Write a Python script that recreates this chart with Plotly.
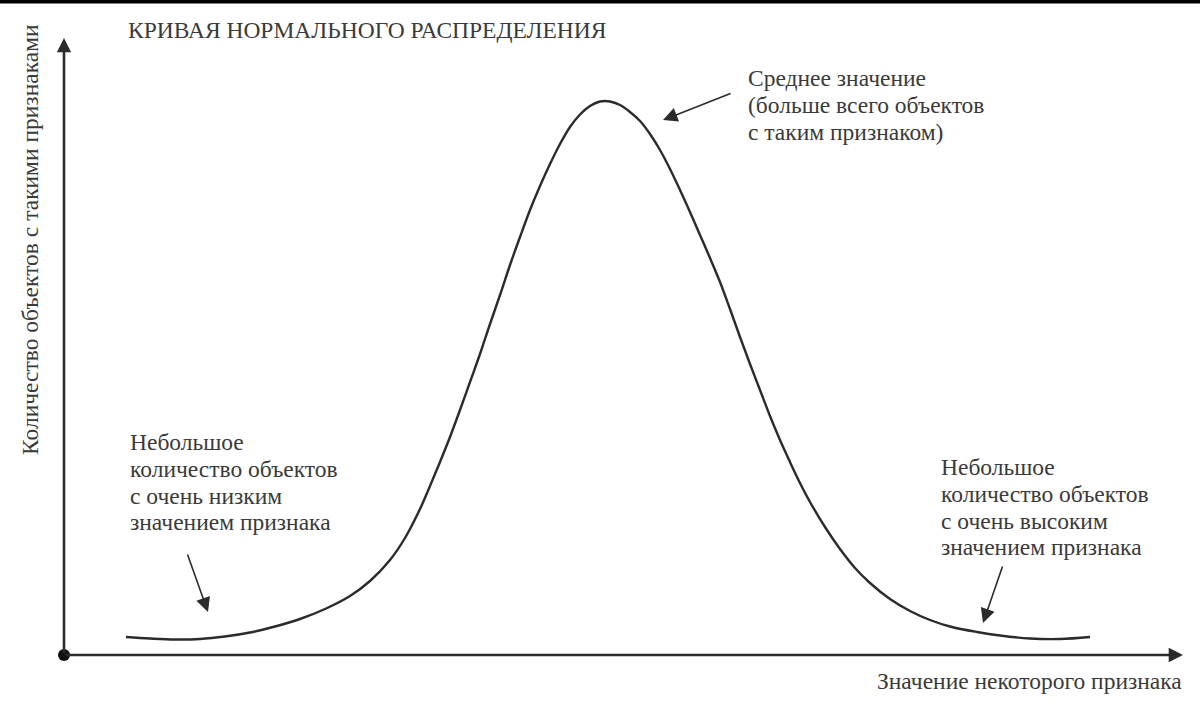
import plotly.graph_objects as go

# Curve (x: feature value units from the origin, y: count units above the axis)
curve_x = [62, 86, 111, 136, 161, 186, 211, 236, 261, 286, 306, 326, 341, 356, 366, 376, 386, 396,
           406, 416, 426, 436, 446, 456, 466, 476, 486, 496, 506, 516, 526, 536, 541, 546, 556,
           566, 576, 586, 596, 606, 616, 626, 636, 646, 656, 666, 676, 686, 696, 706, 716, 726,
           736, 746, 761, 776, 791, 806, 826, 846, 866, 886, 913, 936, 966, 996, 1026]
curve_y = [18, 16.5, 15.5, 16, 18.5, 22.5, 28.5, 36, 46, 59, 74, 95, 117, 146, 169, 193, 218, 245,
           273, 301, 331, 360, 390, 418, 445, 469, 491, 511, 528, 540.5, 549, 553.5, 554, 553.5,
           550, 543, 534, 521, 505, 486, 465, 443, 420, 397, 373, 346, 318, 291, 265, 239, 215,
           193, 172, 153, 128, 106, 87, 72, 56, 44, 35, 28.5, 23, 19.5, 16.5, 16, 18]

title_text = "КРИВАЯ НОРМАЛЬНОГО РАСПРЕДЕЛЕНИЯ"
y_label = "Количество объектов с такими признаками"
x_label = "Значение некоторого признака"
mean_note = ["Среднее значение", "(больше всего объектов", "с таким признаком)"]
low_note = ["Небольшое", "количество объектов", "с очень низким", "значением признака"]
high_note = ["Небольшое", "количество объектов", "с очень высоким", "значением признака"]

FONT = "Liberation Serif, Times New Roman, serif"
INK = "#2b2b2b"
TXT = "#3a3a3a"
FS = 23.5

W, H = 1200, 709
L, R, T, B = 64, 17, 40, 54
XMAX, YMAX = W - L - R, H - T - B  # 1119, 615


def px(xp):
    return xp - L


def py(yp):
    return (H - B) - yp


def ppx(xp):
    return (xp - L) / XMAX


def ppy(yp):
    return ((H - B) - yp) / YMAX


fig = go.Figure()
fig.add_trace(go.Scatter(x=curve_x, y=curve_y, mode="lines",
                         line=dict(color=INK, width=2.4, shape="spline", smoothing=1.0),
                         hoverinfo="skip", showlegend=False))
fig.add_trace(go.Scatter(x=[0], y=[0], mode="markers", marker=dict(color="#111", size=12),
                         cliponaxis=False, hoverinfo="skip", showlegend=False))

ann = []
# axes arrows
ann.append(dict(x=XMAX, y=0, ax=0, ay=0, xref="x", yref="y", axref="x", ayref="y", text="",
                showarrow=True, arrowhead=2, arrowsize=1.1, arrowwidth=2.6, arrowcolor=INK, standoff=0))
ann.append(dict(x=0, y=YMAX + 2, ax=0, ay=0, xref="x", yref="y", axref="x", ayref="y", text="",
                showarrow=True, arrowhead=2, arrowsize=1.1, arrowwidth=2.6, arrowcolor=INK, standoff=0))
# pointer arrows
for (tx, ty, hx, hy) in [(732, 93, 663, 120), (187, 553, 208, 612), (1003, 565, 983, 623)]:
    ann.append(dict(x=px(hx), y=py(hy), ax=px(tx), ay=py(ty), xref="x", yref="y", axref="x", ayref="y",
                    text="", showarrow=True, arrowhead=2, arrowsize=1.8, arrowwidth=1.6, arrowcolor=INK, standoff=0))

# title
ann.append(dict(x=ppx(126), y=ppy(30), xref="paper", yref="paper", text=title_text, showarrow=False,
                xanchor="left", yanchor="middle", font=dict(family=FONT, size=FS, color=TXT)))
# y label
ann.append(dict(x=ppx(30), y=ppy(240), xref="paper", yref="paper", text=y_label, showarrow=False, textangle=-90,
                xanchor="center", yanchor="middle", font=dict(family=FONT, size=FS, color=TXT)))
# x label
ann.append(dict(x=ppx(1184), y=ppy(681), xref="paper", yref="paper", text=x_label, showarrow=False,
                xanchor="right", yanchor="middle", font=dict(family=FONT, size=FS, color=TXT)))


def block(lines, xl, ytop, step=26.8):
    for i, s in enumerate(lines):
        ann.append(dict(x=ppx(xl), y=ppy(ytop + i * step), xref="paper", yref="paper", text=s, showarrow=False,
                        xanchor="left", yanchor="middle", font=dict(family=FONT, size=FS, color=TXT)))


block(mean_note, 746, 78)
block(low_note, 128, 442)
block(high_note, 939, 467)

fig.update_layout(
    width=W, height=H, autosize=False,
    margin=dict(l=L, r=R, t=T, b=B, pad=0),
    paper_bgcolor="white", plot_bgcolor="white",
    xaxis=dict(range=[0, XMAX], visible=False, fixedrange=True),
    yaxis=dict(range=[0, YMAX], visible=False, fixedrange=True),
    annotations=ann,
    shapes=[dict(type="rect", xref="paper", yref="paper", x0=-L / XMAX, x1=(W - L) / XMAX,
                 y0=ppy(3.5), y1=ppy(-1), fillcolor="#000", line=dict(width=0), layer="above")],
)

fig.write_html("out.html", config={"displayModeBar": False},
               post_script="document.body.style.margin='0';document.body.style.overflow='hidden';")
